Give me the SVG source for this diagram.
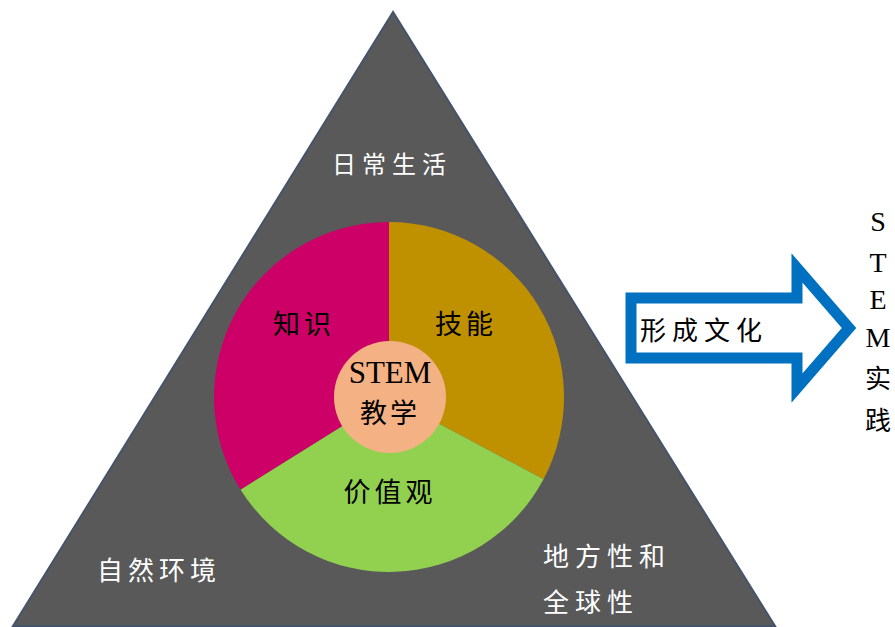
<svg xmlns="http://www.w3.org/2000/svg" width="895" height="627" viewBox="0 0 895 627">
<style>
.w{fill:#ffffff;font-family:"Noto Sans CJK SC","Noto Sans",sans-serif;font-size:24px;letter-spacing:6px}
.b{fill:#000000;font-family:"Noto Sans CJK SC","Noto Sans",sans-serif;font-size:27px;letter-spacing:4px;text-anchor:middle}
.s{fill:#000000;font-family:"Liberation Serif","Noto Sans CJK SC",serif;text-anchor:middle}
</style>
<rect width="895" height="627" fill="#ffffff"/>
<g id="triangle">
<polygon points="393,12 13,626 775,626" fill="#595959" stroke="#44546a" stroke-width="2"/>
<text class="w" x="332" y="173">日常生活</text>
<text class="w" x="97" y="580" style="font-size:26px;letter-spacing:5px">自然环境</text>
<text class="w" x="543" y="566" style="font-size:26px">地方性和</text>
<text class="w" x="543" y="612" style="font-size:26px">全球性</text>
</g>
<g id="knowledge">
<path d="M389,397 L389,222 A175,175 0 0 0 240.6,489.7 Z" fill="#cc0066"/>
<text class="b" x="304" y="334">知识</text>
</g>
<g id="skills">
<path d="M389,397 L389,222 A175,175 0 0 1 543.5,479.2 Z" fill="#bf9000"/>
<text class="b" x="466" y="334">技能</text>
</g>
<g id="values">
<path d="M389,397 L543.5,479.2 A175,175 0 0 1 240.6,489.7 Z" fill="#92d050"/>
<text class="b" x="390" y="502">价值观</text>
</g>
<g id="center">
<circle cx="390" cy="397" r="56" fill="#f4b183"/>
<text class="s" x="390" y="383" font-size="31">STEM</text>
<text class="b" x="390" y="423" style="letter-spacing:3px">教学</text>
</g>
<g id="connectors">
<polygon points="631,298 797,298 797,268 849,328 797,388 797,358 631,358" fill="#ffffff" stroke="#0070c0" stroke-width="11"/>
<text class="b" x="704" y="340" style="font-size:26px;letter-spacing:6px">形成文化</text>
</g>
<g id="stem-practice">
<text class="s" x="878" y="231" font-size="28">S</text>
<text class="s" x="878" y="272" font-size="28">T</text>
<text class="s" x="878" y="309" font-size="28">E</text>
<text class="s" x="878" y="347" font-size="28">M</text>
<text class="b" x="878" y="388" style="font-size:26px;letter-spacing:0">实</text>
<text class="b" x="878" y="430" style="font-size:26px;letter-spacing:0">践</text>
</g>
</svg>
